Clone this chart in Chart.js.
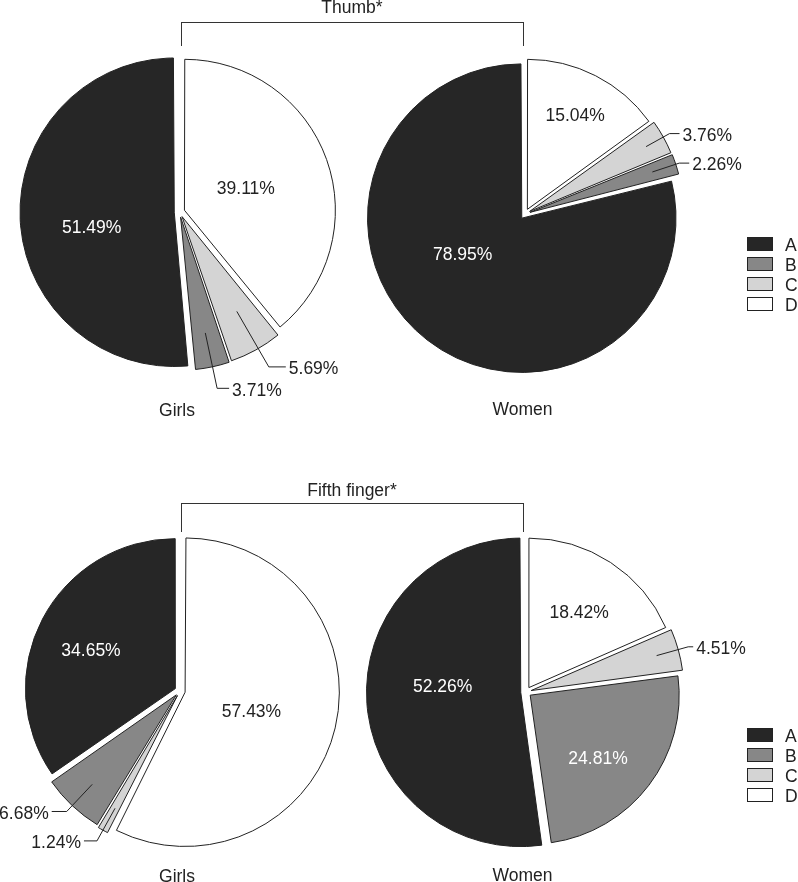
<!DOCTYPE html>
<html>
<head>
<meta charset="utf-8">
<script src="https://cdn.jsdelivr.net/npm/chart.js@4.4.1/dist/chart.umd.min.js"></script>
<style>
  body { margin: 0; background: #fff; }
  #page { position: relative; width: 798px; height: 882px; overflow: hidden;
          font-family: "Liberation Sans", Arial, Helvetica, sans-serif; font-size: 17.5px; color: #222; }
  #page canvas { position: absolute; left: 0; top: 0; pointer-events: none; }
  .txt { position: absolute; line-height: 20px; white-space: nowrap; }
  .bracket { position: absolute; border: 1.3px solid #333; border-bottom: none; box-sizing: border-box; }
  .swatch { position: absolute; width: 26px; height: 14px; border: 1px solid #222; box-sizing: border-box; }
</style>
</head>
<body>
<div id="page">
  <canvas id="thumbGirls" width="798" height="882"></canvas>
  <canvas id="thumbWomen" width="798" height="882"></canvas>
  <canvas id="fifthGirls" width="798" height="882"></canvas>
  <canvas id="fifthWomen" width="798" height="882"></canvas>
</div>
<script>
// data (percent of each group)
const categories = ['A', 'B', 'C', 'D'];
const groups = ['Girls', 'Women'];
const panels = ['Thumb*', 'Fifth finger*'];
const thumbGirls = [51.49, 3.71, 5.69, 39.11];
const thumbWomen = [78.95, 2.26, 3.76, 15.04];
const fifthGirls = [34.65, 6.68, 1.24, 57.43];
const fifthWomen = [52.26, 24.81, 4.51, 18.42];

// styles
const fills = ['#262626', '#878787', '#d4d4d4', '#ffffff'];
const insideText = ['#ffffff', '#ffffff', '#222222', '#222222'];
const FONT = '"Liberation Sans", Arial, Helvetica, sans-serif';
const FONT_SIZE = 17.5;
const PIE_R = 149;

// draws the percent labels, with leader lines for the thin slices
const sliceLabels = {
    id: 'sliceLabels',
    afterDatasetsDraw(chart, args, opts) {
        const ctx = chart.ctx;
        const meta = chart.getDatasetMeta(0);
        const values = chart.data.datasets[0].data;
        ctx.save();
        ctx.font = FONT_SIZE + 'px ' + FONT;
        ctx.textBaseline = 'middle';
        ctx.strokeStyle = '#222';
        ctx.lineWidth = 1;
        meta.data.forEach((arc, i) => {
            const cat = chart.data.labels[i];
            const spec = opts.place[cat];
            const text = values[i].toFixed(2) + '%';
            const p = arc.getProps(['x', 'y', 'startAngle', 'endAngle', 'outerRadius'], true);
            const mid = (p.startAngle + p.endAngle) / 2 + (spec.da || 0) * Math.PI / 180;
            const at = f => [p.x + Math.cos(mid) * f * p.outerRadius, p.y + Math.sin(mid) * f * p.outerRadius];
            if (spec.r1 === undefined) {
                const [lx, ly] = at(spec.r);
                ctx.fillStyle = insideText[categories.indexOf(cat)];
                ctx.textAlign = 'center';
                ctx.fillText(text, lx, ly);
            } else {
                const [x0, y0] = at(spec.r0);
                const [x1, y1] = at(spec.r1);
                const dir = Math.cos(mid) >= 0 ? 1 : -1;
                const x2 = x1 + dir * spec.h;
                ctx.beginPath();
                ctx.moveTo(x0, y0);
                ctx.lineTo(x1, y1);
                ctx.lineTo(x2, y1);
                ctx.stroke();
                ctx.fillStyle = '#222';
                ctx.textAlign = dir > 0 ? 'left' : 'right';
                ctx.fillText(text, x2 + dir * 3, y1 + 2.5);
            }
        });
        ctx.restore();
    }
};

// slices run clockwise from 12 o'clock as D, C, B, A
const makePie = (id, values, cx, cy, place) => {
    const order = [3, 2, 1, 0];
    const box = 320;
    return new Chart(document.getElementById(id), {
        type: 'pie',
        data: {
            labels: order.map(i => categories[i]),
            datasets: [{
                data: order.map(i => values[i]),
                backgroundColor: order.map(i => fills[i]),
                borderColor: '#222',
                borderWidth: 1,
                borderJoinStyle: 'miter',
                offset: 21,
                hoverOffset: 0
            }]
        },
        options: {
            responsive: false,
            animation: false,
            events: [],
            radius: PIE_R,
            layout: {
                padding: {
                    left: cx - box / 2,
                    right: 798 - cx - box / 2,
                    top: cy - box / 2,
                    bottom: 882 - cy - box / 2
                }
            },
            plugins: {
                legend: { display: false },
                tooltip: { enabled: false },
                sliceLabels: { place: place }
            }
        },
        plugins: [sliceLabels]
    });
};

makePie('thumbGirls', thumbGirls, 179.5, 212, {
    A: { r: 0.6, da: -8 },
    B: { r0: 0.83, r1: 1.21, h: 12 },
    C: { r0: 0.77, r1: 1.2, h: 17, da: -1 },
    D: { r: 0.47, da: 1 }
});
makePie('thumbWomen', thumbWomen, 525, 214, {
    A: { r: 0.5, da: 19 },
    B: { r0: 0.9, r1: 1.09, h: 10 },
    C: { r0: 0.93, r1: 1.11, h: 10 },
    D: { r: 0.74 }
});
makePie('fifthGirls', fifthGirls, 180, 691, {
    A: { r: 0.655, da: -3.4 },
    B: { r0: 0.86, r1: 1.11, h: 15 },
    C: { r0: 0.9, r1: 1.15, h: 13 },
    D: { r: 0.5, da: 3 }
});
makePie('fifthWomen', fifthWomen, 526, 692, {
    A: { r: 0.56, da: 7.4 },
    B: { r: 0.66, da: 5.7 },
    C: { r0: 0.91, r1: 1.13, h: 5 },
    D: { r: 0.64, da: 0.7 }
});

// brackets, group names and legends as page text
const page = document.getElementById('page');
const addText = (str, x, top, align) => {
    const d = document.createElement('div');
    d.className = 'txt';
    d.textContent = str;
    d.style.top = top + 'px';
    if (align === 'center') {
        d.style.left = (x - 100) + 'px';
        d.style.width = '200px';
        d.style.textAlign = 'center';
    } else {
        d.style.left = x + 'px';
    }
    page.appendChild(d);
};
const rows = [{ title: -3, bracket: 22, bh: 24, names: 400, legend: 237 },
              { title: 480, bracket: 503, bh: 29, names: 866, legend: 728 }];
rows.forEach((row, k) => {
    addText(panels[k], 352, row.title, 'center');
    const b = document.createElement('div');
    b.className = 'bracket';
    Object.assign(b.style, { left: '181px', top: row.bracket + 'px', width: '343px', height: row.bh + 'px' });
    page.appendChild(b);
    addText(groups[0], 177, row.names, 'center');
    addText(groups[1], 522.5, row.names - 1, 'center');
    categories.forEach((c, i) => {
        const s = document.createElement('div');
        s.className = 'swatch';
        s.style.left = '747px';
        s.style.top = (row.legend + i * 20) + 'px';
        s.style.background = fills[i];
        page.appendChild(s);
        addText(c, 785, row.legend + i * 20 - 2.5, 'left');
    });
});
</script>
</body>
</html>
